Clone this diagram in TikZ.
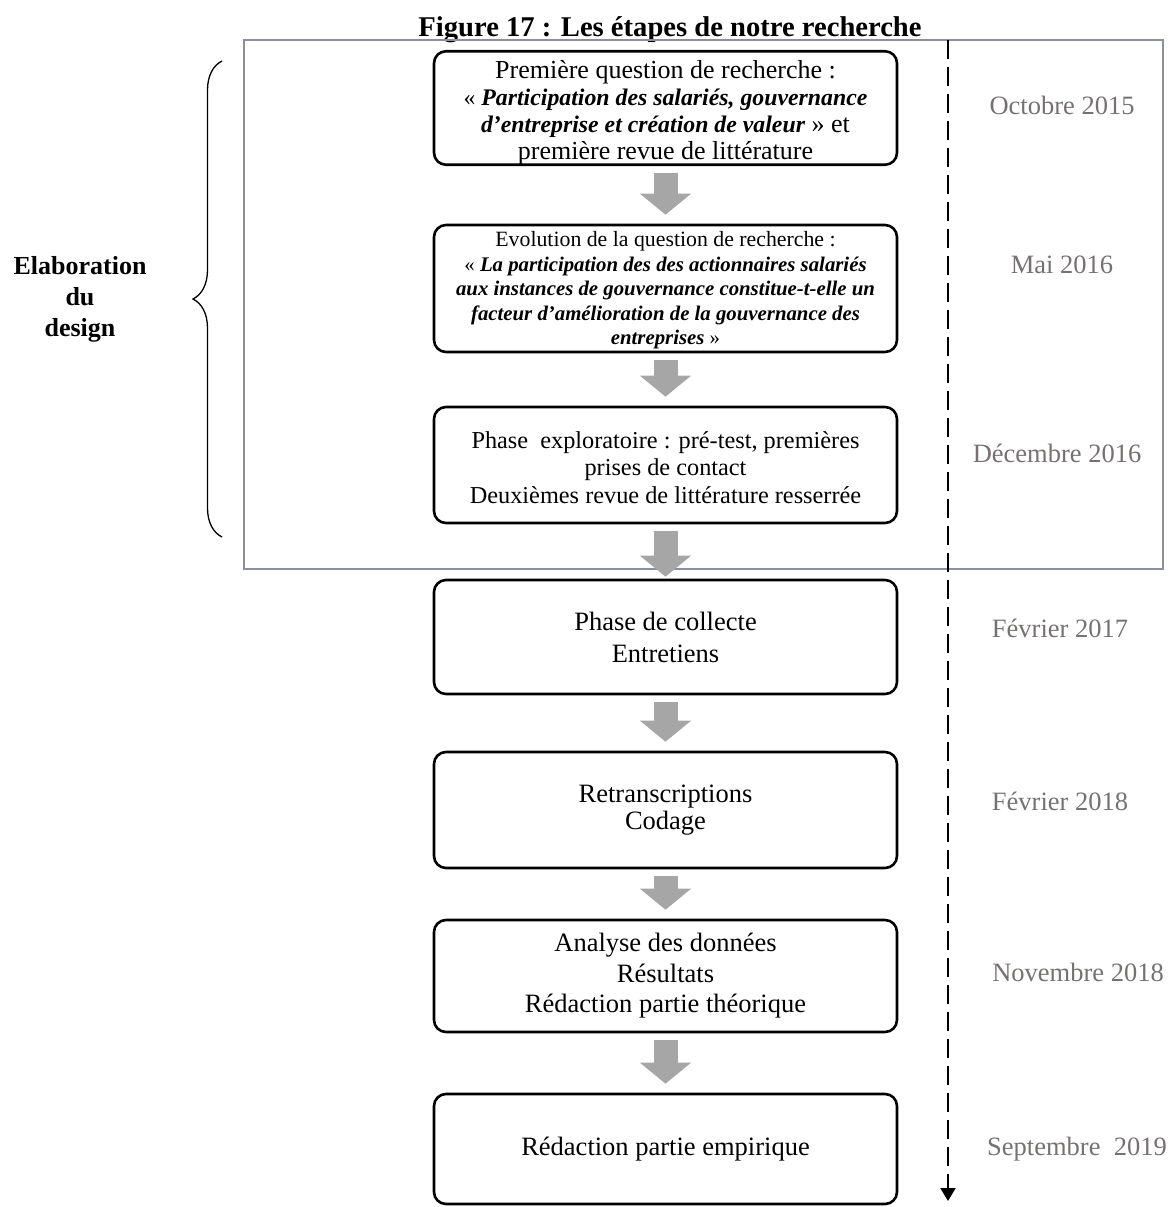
\documentclass[tikz,border=0pt]{standalone}
\usepackage{fontspec}
\setmainfont{Liberation Serif}
\usetikzlibrary{arrows.meta,decorations.pathreplacing}
\definecolor{frameGray}{HTML}{8E9099}
\definecolor{arrowGray}{HTML}{A6A6A6}
\definecolor{dateGray}{HTML}{767171}
\newcommand{\bi}[1]{\textbf{\textit{#1}}}
\begin{document}
\begin{tikzpicture}[x=1pt,y=-1pt,
  stepbox/.style={draw, line width=2.6pt, rounded corners=12pt, minimum width=463pt, align=center, inner sep=0pt},
  datelabel/.style={text=dateGray, font=\fontsize{26.5}{30}\selectfont, anchor=center},
  bigarrow/.style={draw=arrowGray, line width=24pt, -{Triangle[width=50pt,length=21pt]}, shorten <=7pt, shorten >=9pt}]
\useasboundingbox (0,0) rectangle (1173,1207);
% title
\node[font=\bfseries\fontsize{28.6}{32}\selectfont] (title) at (670,30) {Figure 17 : Les étapes de notre recherche};
% frame
\draw[frameGray, line width=1.5pt] (244,40) rectangle (1163,569);
% boxes
\node[stepbox, minimum height=110pt, font=\fontsize{26}{27}\selectfont] (b1) at (665.5,108)
  {\rule{0pt}{27pt}Première question de recherche :\\
   {\fontsize{23.8}{27}\selectfont «~\bi{Participation des salariés, gouvernance}}\\
   {\fontsize{23.8}{27}\selectfont\bi{d’entreprise et création de valeur}}~» et\\
   première revue de littérature};
\node[stepbox, minimum height=127pt, font=\fontsize{20.8}{24.5}\selectfont] (b2) at (665.5,288.5)
  {{\fontsize{21.8}{24.5}\selectfont\rule{0pt}{19pt}Evolution de la question de recherche :}\\
   «~\bi{La participation des des actionnaires salariés}\\
   \bi{aux instances de gouvernance constitue-t-elle un}\\
   \bi{facteur d'amélioration de la gouvernance des}\\
   \bi{entreprises}~»};
\node[stepbox, minimum height=116pt, font=\fontsize{24.3}{27.5}\selectfont] (b3) at (665.5,465)
  {\rule{0pt}{22pt}Phase\ \ exploratoire : pré-test, premières\\
   prises de contact\\
   Deuxièmes revue de littérature resserrée};
\node[stepbox, minimum height=114pt, font=\fontsize{26.5}{32}\selectfont] (b4) at (665.5,637)
  {Phase de collecte\\Entretiens};
\node[stepbox, minimum height=116pt, font=\fontsize{26.5}{27}\selectfont] (b5) at (665.5,810)
  {Retranscriptions\\Codage};
\node[stepbox, minimum height=112pt, font=\fontsize{26.5}{30.5}\selectfont] (b6) at (665.5,976)
  {Analyse des données\\Résultats\\Rédaction partie théorique};
\node[stepbox, minimum height=110pt, font=\fontsize{26.5}{27}\selectfont] (b7) at (665.5,1149)
  {Rédaction partie empirique};
% gray arrows
\draw[bigarrow] (b1.south) -- (b2.north);
\draw[bigarrow] (b2.south) -- (b3.north);
\draw[bigarrow, shorten >=2pt] (b3.south) -- (b4.north);
\draw[bigarrow] (b4.south) -- (b5.north);
\draw[bigarrow] (b5.south) -- (b6.north);
\draw[bigarrow] (b6.south) -- (b7.north);
% time line
\coordinate (tTop) at (948,40);
\coordinate (tBot) at (948,1201);
\draw[line width=2pt, dash pattern=on 19pt off 8pt, -{Triangle[width=15pt,length=13pt]}] (tTop) -- (tBot);
% dates
\node[datelabel] (d1) at (1062,105) {Octobre 2015};
\node[datelabel] (d2) at (1062,265) {Mai 2016};
\node[datelabel] (d3) at (1057,453) {Décembre 2016};
\node[datelabel] (d4) at (1060,628) {Février 2017};
\node[datelabel] (d5) at (1060,801) {Février 2018};
\node[datelabel] (d6) at (1078,972) {Novembre 2018};
\node[datelabel] (d7) at (1077,1149) {Septembre\ \ 2019};
% brace
\coordinate (brB) at (222,537);
\coordinate (brT) at (222,61);
\draw[line width=1.3pt, decorate, decoration={brace, amplitude=29pt}] (brB) -- (brT);
\node[font=\bfseries\fontsize{26}{31}\selectfont, align=center] (elab) at (80,299) {Elaboration\\du\\design};
\end{tikzpicture}
\end{document}
